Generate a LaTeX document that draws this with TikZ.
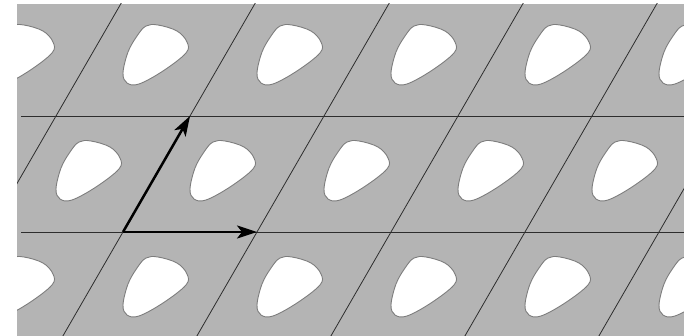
\documentclass[tikz,border=0pt]{standalone}
\usetikzlibrary{arrows.meta}
\definecolor{bg}{RGB}{180,180,180}
\definecolor{outl}{RGB}{125,125,125}
\definecolor{latt}{RGB}{45,45,45}
\tikzset{
  holeshape/.style={fill=white, draw=outl, line width=0.9pt},
  lattline/.style={draw=latt, line width=0.8pt},
  basisvec/.style={draw=black, line width=2.5pt, -{Stealth[length=20pt,width=13pt,inset=5pt]}}
}
\begin{document}
\begin{tikzpicture}[x=1pt,y=-1pt]
\useasboundingbox (0,0) rectangle (684,336);
\fill[bg] (17,4) rectangle (684,336);
\begin{scope}
\clip (17,4) rectangle (684,336);
\foreach \j in {-1,0,1,2}{
  \foreach \i in {-3,...,5}{
    \pgfmathsetmacro\ox{123+134*\i+67*\j}
    \pgfmathsetmacro\oy{232-116*\j}
    \draw[holeshape, shift={(\ox,\oy)}] plot[smooth cycle, tension=0.6] coordinates
      {(90,-90) (102,-91) (121,-85) (131,-74) (130,-63) (107,-45) (83,-32) (71,-33) (67,-43) (72,-64) (81,-80)};
  }
}
\foreach \k in {-2,...,5}{
  \draw[lattline] ({123+134*\k+139.8},-10) -- ({123+134*\k-68.2},350);
}
\end{scope}
\coordinate (h1a) at (21,116);
\coordinate (h1b) at (684,116);
\coordinate (h2a) at (21,232);
\coordinate (h2b) at (684,232);
\draw[lattline] (h1a) -- (h1b);
\draw[lattline] (h2a) -- (h2b);
\coordinate (O) at (123,232);
\coordinate (A) at (257,232);
\coordinate (B) at (190,116);
\draw[basisvec] (O) -- (A);
\draw[basisvec] (O) -- (B);
\end{tikzpicture}
\end{document}
